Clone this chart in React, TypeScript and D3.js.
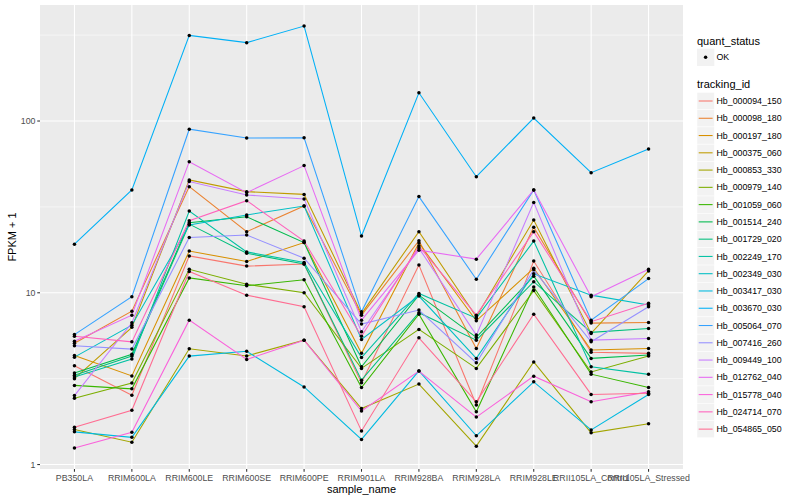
import React from "react";
import * as d3 from "d3";

const categories = [
  "PB350LA", "RRIM600LA", "RRIM600LE", "RRIM600SE", "RRIM600PE", "RRIM901LA",
  "RRIM928BA", "RRIM928LA", "RRIM928LE", "RRII105LA_Control", "RRII105LA_Stressed",
];

const trackingIds = [
  "Hb_000094_150", "Hb_000098_180", "Hb_000197_180", "Hb_000375_060", "Hb_000853_330",
  "Hb_000979_140", "Hb_001059_060", "Hb_001514_240", "Hb_001729_020", "Hb_002249_170",
  "Hb_002349_030", "Hb_003417_030", "Hb_003670_030", "Hb_005064_070", "Hb_007416_260",
  "Hb_009449_100", "Hb_012762_040", "Hb_015778_040", "Hb_024714_070", "Hb_054865_050",
];

const seriesColors = [
  "#F8766D", "#EA8331", "#D89000", "#C09B00", "#A3A500", "#7CAE00", "#39B600", "#00BB4E",
  "#00BF7D", "#00C1A3", "#00BFC4", "#00BAE0", "#00B0F6", "#35A2FF", "#9590FF", "#C77CFF",
  "#E76BF3", "#FA62DB", "#FF62BC", "#FF6C91",
];

// FPKM + 1 per sample (order of categories)
const hb000094_150 = [3.76, 2.53, 16.4, 14.3, 14.7, 2.99, 14.5, 2.22, 15.3, 4.51, 4.44];
const hb000098_180 = [5.09, 7.82, 41.5, 22.7, 32.0, 7.41, 20.1, 4.74, 24.1, 6.66, 6.72];
const hb000197_180 = [4.31, 3.28, 17.5, 15.2, 19.6, 4.44, 19.5, 6.87, 13.9, 4.64, 4.74];
const hb000375_060 = [3.16, 6.29, 45.4, 38.8, 37.4, 7.56, 22.7, 7.25, 26.5, 5.8, 13.4];
const hb000853_330 = [1.6, 1.35, 4.72, 4.29, 5.3, 2.12, 2.94, 1.28, 3.96, 1.53, 1.73];
const hb000979_140 = [2.43, 2.98, 13.7, 11.2, 10.0, 3.63, 6.12, 3.63, 10.3, 3.46, 4.28];
const hb001059_060 = [2.89, 2.76, 12.2, 11.0, 11.9, 2.81, 7.51, 2.03, 10.8, 3.36, 2.81];
const hb001514_240 = [3.41, 4.39, 25.6, 27.7, 19.6, 3.71, 9.69, 5.5, 12.5, 4.15, 4.34];
const hb001729_020 = [3.31, 4.28, 25.1, 17.0, 14.7, 3.1, 7.66, 5.3, 11.6, 5.88, 6.2];
const hb002249_170 = [3.23, 4.11, 29.9, 17.3, 15.0, 4.2, 9.92, 7.12, 20.0, 3.71, 3.35];
const hb002349_030 = [4.22, 6.48, 24.8, 28.4, 32.0, 5.35, 9.57, 4.15, 12.9, 9.69, 8.48];
const hb003417_030 = [1.55, 1.44, 4.28, 4.57, 2.83, 1.4, 3.51, 1.47, 3.03, 1.59, 2.56];
const hb003670_030 = [19.2, 39.7, 315, 286, 357, 21.4, 146, 47.4, 104, 50.0, 68.8];
const hb005064_070 = [5.71, 9.48, 89.6, 79.7, 79.9, 7.75, 36.3, 12.0, 39.7, 6.93, 12.1];
const hb007416_260 = [4.92, 4.7, 21.0, 21.7, 15.9, 6.57, 7.93, 3.91, 13.6, 5.19, 8.29];
const hb009449_100 = [2.52, 6.69, 44.4, 37.1, 35.2, 5.93, 18.2, 5.67, 33.6, 5.3, 5.42];
const hb012762_040 = [5.23, 7.41, 58.0, 38.3, 55.0, 6.93, 17.7, 15.7, 39.7, 9.48, 13.7];
const hb015778_040 = [1.25, 1.54, 6.93, 4.09, 5.3, 2.05, 3.5, 1.89, 3.27, 2.32, 2.65];
const hb024714_070 = [5.59, 5.18, 26.3, 34.4, 20.0, 5.59, 18.7, 7.41, 22.7, 6.79, 8.68];
const hb054865_050 = [1.65, 2.07, 13.3, 9.69, 8.29, 1.57, 5.47, 2.32, 7.51, 2.56, 2.6];

const yTicks = [1, 10, 100];
const yMinorTicks = [Math.sqrt(10), Math.sqrt(1000), Math.sqrt(100000)];

const seriesValues = [
  hb000094_150, hb000098_180, hb000197_180, hb000375_060, hb000853_330,
  hb000979_140, hb001059_060, hb001514_240, hb001729_020, hb002249_170,
  hb002349_030, hb003417_030, hb003670_030, hb005064_070, hb007416_260,
  hb009449_100, hb012762_040, hb015778_040, hb024714_070, hb054865_050,
];

const FONT = "'Liberation Sans', Arial, Helvetica, sans-serif";

export default function App() {
  const W = 800, H = 500;
  const panel = { left: 40, right: 683, top: 5, bottom: 469 };

  const series = trackingIds.map((id, i) => ({ id, color: seriesColors[i], values: seriesValues[i] }));
  const all = seriesValues.flat();
  const lmin = Math.log10(d3.min(all) as number);
  const lmax = Math.log10(d3.max(all) as number);
  const pad = (lmax - lmin) * 0.05;

  const x = d3.scalePoint<string>().domain(categories).range([panel.left, panel.right]).padding(0.6);
  const y = d3.scaleLog().domain([Math.pow(10, lmin - pad), Math.pow(10, lmax + pad)]).range([panel.bottom, panel.top]);

  const line = d3.line<number>().x((_, i) => x(categories[i]) as number).y((d) => y(d));

  const legendX = 697;
  const keyStart = 101;
  const keyStep = 17.27;

  return (
    <svg width={W} height={H} style={{ position: "fixed", left: 0, top: 0, background: "#fff" }} fontFamily={FONT}>
      <rect x={panel.left} y={panel.top} width={panel.right - panel.left} height={panel.bottom - panel.top} fill="#EBEBEB" />
      {yMinorTicks.map((t) => (
        <line key={"m" + t} x1={panel.left} x2={panel.right} y1={y(t)} y2={y(t)} stroke="#fff" strokeWidth={0.53} />
      ))}
      {yTicks.map((t) => (
        <line key={"g" + t} x1={panel.left} x2={panel.right} y1={y(t)} y2={y(t)} stroke="#fff" strokeWidth={1.07} />
      ))}
      {categories.map((c) => (
        <line key={"v" + c} x1={x(c)} x2={x(c)} y1={panel.top} y2={panel.bottom} stroke="#fff" strokeWidth={1.07} />
      ))}
      {series.map((s) => (
        <path key={s.id} d={line(s.values) as string} fill="none" stroke={s.color} strokeWidth={1.07} />
      ))}
      {series.map((s) =>
        s.values.map((v, i) => (
          <circle key={s.id + i} cx={x(categories[i])} cy={y(v)} r={1.75} fill="#000" />
        ))
      )}
      {/* y axis */}
      {yTicks.map((t) => (
        <g key={"yt" + t}>
          <line x1={panel.left - 2.75} x2={panel.left} y1={y(t)} y2={y(t)} stroke="#333" strokeWidth={1.07} />
          <text x={panel.left - 4.5} y={y(t)} dy="0.35em" textAnchor="end" fontSize={8.8} fill="#4D4D4D">{t}</text>
        </g>
      ))}
      {/* x axis */}
      {categories.map((c) => (
        <g key={"xt" + c}>
          <line x1={x(c)} x2={x(c)} y1={panel.bottom} y2={panel.bottom + 2.75} stroke="#333" strokeWidth={1.07} />
          <text x={x(c)} y={481} textAnchor="middle" fontSize={8.8} fill="#4D4D4D">{c}</text>
        </g>
      ))}
      <text x={(panel.left + panel.right) / 2} y={492.5} textAnchor="middle" fontSize={11} fill="#000">sample_name</text>
      <text transform={`translate(16,${(panel.top + panel.bottom) / 2}) rotate(-90)`} textAnchor="middle" fontSize={11} fill="#000">FPKM + 1</text>

      {/* legend: quant_status */}
      <text x={legendX} y={44.5} fontSize={11} fill="#000">quant_status</text>
      <rect x={legendX} y={48.7} width={17.3} height={17.3} fill="#F2F2F2" />
      <circle cx={legendX + 8.6} cy={57.3} r={1.75} fill="#000" />
      <text x={716.5} y={57.3} dy="0.35em" fontSize={8.8} fill="#000">OK</text>

      {/* legend: tracking_id */}
      <text x={legendX} y={88} fontSize={11} fill="#000">tracking_id</text>
      {series.map((s, i) => {
        const cy = keyStart + i * keyStep;
        return (
          <g key={"lg" + s.id}>
            <rect x={legendX} y={cy - keyStep / 2} width={17.3} height={keyStep} fill="#F2F2F2" stroke="#fff" strokeWidth={0.5} />
            <line x1={legendX + 1.7} x2={legendX + 15.6} y1={cy} y2={cy} stroke={s.color} strokeWidth={1.07} />
            <text x={716.5} y={cy} dy="0.35em" fontSize={8.8} fill="#000">{s.id}</text>
          </g>
        );
      })}
    </svg>
  );
}
